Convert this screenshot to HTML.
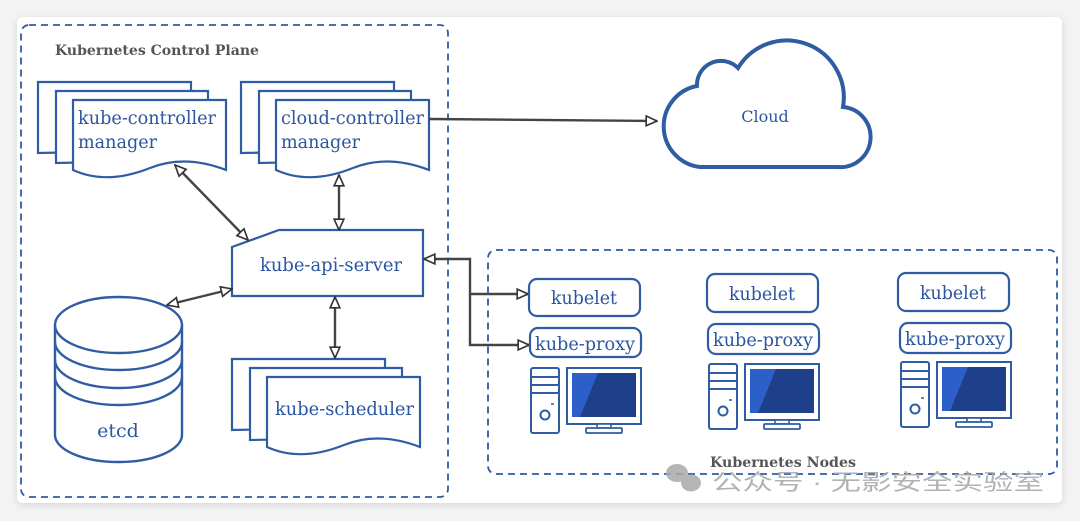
<!DOCTYPE html>
<html><head><meta charset="utf-8"><style>
html,body{margin:0;padding:0;background:#f3f3f3;}
svg{display:block}
.t{font-family:"DejaVu Serif","Liberation Serif",serif;fill:#2b56a0;}
.b{font-family:"DejaVu Serif","Liberation Serif",serif;fill:#555;font-weight:bold;}
.s{fill:#fff;stroke:#2f5ca3;stroke-width:2.2;}
.d{fill:none;stroke:#2f5ca3;stroke-width:1.8;stroke-dasharray:7,5;}
.a{stroke:#444;stroke-width:2.4;fill:none;}
</style></head><body>
<svg width="1080" height="521" viewBox="0 0 1080 521">
<defs>
<filter id="sh" x="-5%" y="-5%" width="110%" height="110%"><feDropShadow dx="0" dy="2" stdDeviation="4" flood-color="#000" flood-opacity="0.12"/></filter>
<marker id="m" viewBox="0 0 12 12" refX="11" refY="6" markerWidth="13" markerHeight="13" orient="auto-start-reverse" markerUnits="userSpaceOnUse"><path d="M1,1.5 L11,6 L1,10.5 Z" fill="#fff" stroke="#333" stroke-width="1.5"/></marker>
<g id="pc">
<rect x="0" y="0" width="28" height="65" rx="2" fill="#fff" stroke="#2f5ca3" stroke-width="2"/>
<line x1="0" y1="9" x2="28" y2="9" stroke="#2f5ca3" stroke-width="2"/>
<line x1="0" y1="17" x2="28" y2="17" stroke="#2f5ca3" stroke-width="2"/>
<line x1="0" y1="25" x2="28" y2="25" stroke="#2f5ca3" stroke-width="2"/>
<circle cx="14" cy="47" r="4.5" fill="none" stroke="#2f5ca3" stroke-width="2"/>
<line x1="20" y1="36" x2="23" y2="36" stroke="#2f5ca3" stroke-width="1.5"/>
<rect x="36" y="0" width="74" height="56" fill="#fff" stroke="#2f5ca3" stroke-width="2"/>
<rect x="41" y="5" width="64" height="44" fill="#1e3f8a"/>
<path d="M41,5 H67 L49,49 H41 Z" fill="#2d5fc8"/>
<rect x="66" y="56" width="14" height="4" fill="#fff" stroke="#2f5ca3" stroke-width="1.6"/>
<rect x="55" y="60" width="36" height="5" rx="1" fill="#fff" stroke="#2f5ca3" stroke-width="1.8"/>
</g>
</defs>
<rect x="17" y="17" width="1045" height="486" rx="6" fill="#fff" filter="url(#sh)"/>
<rect class="d" x="21" y="25" width="427" height="472" rx="8"/>
<text class="b" x="55" y="55" font-size="14" textLength="204" lengthAdjust="spacingAndGlyphs">Kubernetes Control Plane</text>

<!-- kube-controller -->
<path class="s" d="M38,82 H191 V150 L38,153 Z"/>
<path class="s" d="M56,91 H208 V160 L56,163 Z"/>
<path class="s" d="M73,100 H226 V170 C200,160 175,158 150,168 C120,180 95,180 73,170 Z"/>
<text class="t" x="78" y="124" font-size="19" textLength="138" lengthAdjust="spacingAndGlyphs">kube-controller</text>
<text class="t" x="78" y="148" font-size="19" textLength="79" lengthAdjust="spacingAndGlyphs">manager</text>

<!-- cloud-controller -->
<path class="s" d="M241,82 H394 V150 L241,153 Z"/>
<path class="s" d="M259,91 H411 V160 L259,163 Z"/>
<path class="s" d="M276,100 H429 V170 C403,160 378,158 353,168 C323,180 298,180 276,170 Z"/>
<text class="t" x="281" y="124" font-size="19" textLength="143" lengthAdjust="spacingAndGlyphs">cloud-controller</text>
<text class="t" x="281" y="148" font-size="19" textLength="79" lengthAdjust="spacingAndGlyphs">manager</text>

<!-- api server -->
<path class="s" d="M279,230 H423 V296 H232 V247 Z" stroke-width="2.4"/>
<text class="t" x="331" y="271" font-size="19" text-anchor="middle" textLength="142" lengthAdjust="spacingAndGlyphs">kube-api-server</text>

<!-- etcd -->
<g fill="#fff" stroke="#2f5ca3" stroke-width="2.4">
<path d="M55,325 V435 A63.5,27 0 0 0 182,435 V325"/>
<ellipse cx="118.5" cy="325" rx="63.5" ry="28"/>
<path d="M55,342 A63.5,28 0 0 0 182,342" fill="none"/>
<path d="M55,360 A63.5,28 0 0 0 182,360" fill="none"/>
<path d="M55,377 A63.5,28 0 0 0 182,377" fill="none"/>
</g>
<text class="t" x="118" y="437" font-size="19" text-anchor="middle">etcd</text>

<!-- scheduler -->
<path class="s" d="M232,359 H385 V427 L232,430 Z"/>
<path class="s" d="M250,368 H402 V437 L250,440 Z"/>
<path class="s" d="M267,377 H420 V447 C394,437 369,435 344,445 C314,457 289,457 267,447 Z"/>
<text class="t" x="275" y="415" font-size="19" textLength="139" lengthAdjust="spacingAndGlyphs">kube-scheduler</text>

<!-- arrows control plane -->
<line class="a" x1="175" y1="165" x2="248" y2="240" marker-start="url(#m)" marker-end="url(#m)"/>
<line class="a" x1="339" y1="175" x2="339" y2="230" marker-start="url(#m)" marker-end="url(#m)"/>
<line class="a" x1="167" y1="305" x2="232" y2="289" marker-start="url(#m)" marker-end="url(#m)"/>
<line class="a" x1="335" y1="297" x2="335" y2="358" marker-start="url(#m)" marker-end="url(#m)"/>
<line class="a" x1="429" y1="119" x2="657" y2="121" marker-end="url(#m)"/>
<path class="a" d="M424,259 H470 V345 H529" marker-start="url(#m)" marker-end="url(#m)"/>
<path class="a" d="M470,294 H528" marker-end="url(#m)"/>

<!-- cloud -->
<path d="M700,167 H838 A30,30 0 0 0 843,107 A57,57 0 0 0 738,68 A24,24 0 0 0 697,86 A41,41 0 0 0 700,167 Z" fill="#fff" stroke="#2f5ca3" stroke-width="4"/>
<text class="t" x="765" y="122" font-size="16" text-anchor="middle">Cloud</text>

<!-- nodes -->
<rect class="d" x="488" y="250" width="569" height="224" rx="8"/>
<rect class="s" x="529" y="279" width="111" height="37" rx="8" stroke-width="1.8"/>
<text class="t" x="584" y="304" font-size="19" text-anchor="middle" textLength="66" lengthAdjust="spacingAndGlyphs">kubelet</text>
<rect class="s" x="530" y="328" width="111" height="29" rx="8" stroke-width="1.8"/>
<text class="t" x="585" y="350" font-size="19" text-anchor="middle" textLength="100" lengthAdjust="spacingAndGlyphs">kube-proxy</text>
<use href="#pc" x="531" y="368"/>

<rect class="s" x="707" y="274" width="111" height="38" rx="8" stroke-width="1.8"/>
<text class="t" x="762" y="300" font-size="19" text-anchor="middle" textLength="66" lengthAdjust="spacingAndGlyphs">kubelet</text>
<rect class="s" x="708" y="324" width="111" height="30" rx="8" stroke-width="1.8"/>
<text class="t" x="763" y="346" font-size="19" text-anchor="middle" textLength="100" lengthAdjust="spacingAndGlyphs">kube-proxy</text>
<use href="#pc" x="709" y="364"/>

<rect class="s" x="898" y="273" width="111" height="38" rx="8" stroke-width="1.8"/>
<text class="t" x="953" y="299" font-size="19" text-anchor="middle" textLength="66" lengthAdjust="spacingAndGlyphs">kubelet</text>
<rect class="s" x="900" y="323" width="111" height="30" rx="8" stroke-width="1.8"/>
<text class="t" x="955" y="345" font-size="19" text-anchor="middle" textLength="100" lengthAdjust="spacingAndGlyphs">kube-proxy</text>
<use href="#pc" x="901" y="362"/>

<text class="b" x="783" y="467" font-size="14" text-anchor="middle" textLength="146" lengthAdjust="spacingAndGlyphs">Kubernetes Nodes</text>

<!-- watermark -->
<g fill="#aaa" opacity="0.85">
<ellipse cx="677" cy="473" rx="11" ry="9"/>
<ellipse cx="691" cy="483" rx="10" ry="8.5"/>
</g>
<text x="712" y="490" font-size="22" fill="#aaa" opacity="0.9" font-family="'Liberation Sans','Noto Sans CJK SC',sans-serif" textLength="332" lengthAdjust="spacingAndGlyphs">公众号 · 无影安全实验室</text>
</svg>
</body></html>
